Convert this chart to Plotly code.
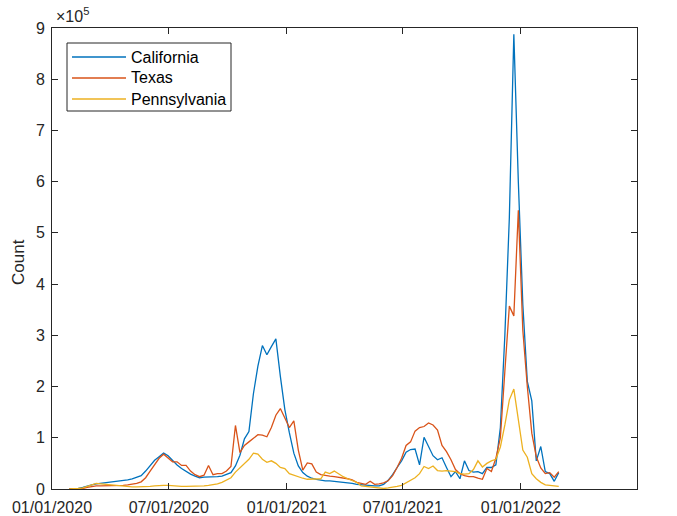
import pandas as pd
import plotly.graph_objects as go

# ---- data (values in units of 1e5) ----
dates = pd.date_range("2020-01-28", periods=110, freq="7D")

california = [
    0.0, 0.0, 0.01, 0.03, 0.06, 0.08, 0.10, 0.11, 0.12, 0.14,
    0.15, 0.16, 0.17, 0.18, 0.20, 0.23, 0.26, 0.35, 0.45, 0.56,
    0.63, 0.70, 0.65, 0.55, 0.47, 0.40, 0.34, 0.29, 0.25, 0.22,
    0.23, 0.23, 0.23, 0.24, 0.25, 0.28, 0.32, 0.45, 0.66, 0.98,
    1.12, 1.86, 2.40, 2.80, 2.62, 2.78, 2.93, 2.20, 1.55, 1.10,
    0.70, 0.45, 0.32, 0.25, 0.21, 0.19, 0.17, 0.16, 0.16, 0.15,
    0.15, 0.14, 0.12, 0.11, 0.09, 0.08, 0.08, 0.07, 0.06, 0.06,
    0.09, 0.17, 0.28, 0.42, 0.55, 0.72, 0.77, 0.78, 0.47, 1.01,
    0.83, 0.65, 0.57, 0.61, 0.42, 0.24, 0.34, 0.20, 0.55, 0.36,
    0.33, 0.34, 0.30, 0.42, 0.42, 0.47, 1.20, 3.00, 5.30, 8.88,
    6.00, 3.60, 2.10, 1.72, 0.55, 0.83, 0.34, 0.30, 0.15, 0.32,
]

texas = [
    0.0, 0.0, 0.0, 0.01, 0.03, 0.05, 0.06, 0.06, 0.06, 0.07,
    0.07, 0.07, 0.07, 0.08, 0.09, 0.11, 0.14, 0.22, 0.35, 0.48,
    0.60, 0.68, 0.60, 0.53, 0.53, 0.46, 0.46, 0.35, 0.28, 0.24,
    0.27, 0.46, 0.28, 0.30, 0.30, 0.35, 0.44, 1.24, 0.71, 0.85,
    0.92, 0.99, 1.06, 1.05, 1.02, 1.20, 1.44, 1.57, 1.38, 1.20,
    1.33, 0.76, 0.37, 0.51, 0.49, 0.33, 0.28, 0.26, 0.25, 0.24,
    0.23, 0.22, 0.20, 0.18, 0.13, 0.11, 0.09, 0.15, 0.09, 0.10,
    0.12, 0.16, 0.26, 0.42, 0.60, 0.85, 0.92, 1.13, 1.20, 1.22,
    1.29, 1.25, 1.15, 0.85, 0.73, 0.57, 0.38, 0.30, 0.26, 0.24,
    0.24, 0.21, 0.19, 0.40, 0.34, 0.60, 1.00, 2.30, 3.57, 3.38,
    5.44, 3.10, 2.00, 1.09, 0.63, 0.41, 0.30, 0.32, 0.23, 0.34,
]

pennsylvania = [
    0.0, 0.0, 0.01, 0.02, 0.05, 0.08, 0.11, 0.10, 0.09, 0.09,
    0.08, 0.07, 0.06, 0.05, 0.04, 0.04, 0.04, 0.05, 0.05, 0.06,
    0.07, 0.07, 0.07, 0.06, 0.06, 0.05, 0.05, 0.05, 0.06, 0.06,
    0.06, 0.07, 0.08, 0.10, 0.13, 0.17, 0.22, 0.33, 0.42, 0.50,
    0.58, 0.70, 0.68, 0.58, 0.52, 0.55, 0.50, 0.42, 0.40, 0.30,
    0.27, 0.23, 0.21, 0.19, 0.19, 0.19, 0.20, 0.33, 0.30, 0.35,
    0.29, 0.24, 0.20, 0.17, 0.13, 0.06, 0.05, 0.03, 0.02, 0.01,
    0.01, 0.02, 0.03, 0.05, 0.07, 0.12, 0.16, 0.22, 0.30, 0.44,
    0.40, 0.45, 0.36, 0.35, 0.36, 0.35, 0.34, 0.30, 0.29, 0.30,
    0.38, 0.55, 0.43, 0.50, 0.55, 0.58, 0.82, 1.25, 1.74, 1.95,
    1.40, 0.76, 0.62, 0.30, 0.20, 0.13, 0.08, 0.07, 0.06, 0.05,
]

series_names = ["California", "Texas", "Pennsylvania"]
series_colors = ["#0072BD", "#D95319", "#EDB120"]

xtick_vals = ["2020-01-01", "2020-07-01", "2021-01-01", "2021-07-01", "2022-01-01", "2022-07-01"]
xtick_text = ["01/01/2020", "07/01/2020", "01/01/2021", "07/01/2021", "01/01/2022", "07/01/2022"]
ytick_vals = [i * 1e5 for i in range(10)]
ytick_text = [str(i) for i in range(10)]

# ---- figure ----
W, H = 677, 516
L, R, T, B = 52, 40, 28, 27
pw, ph = W - L - R, H - T - B

def px(x):
    return (x - L) / pw

def py(y):
    return (H - B - y) / ph

FONT = "Liberation Sans, Arial, sans-serif"
fig = go.Figure()
all_vals = [california, texas, pennsylvania]
for name, vals, col in zip(series_names, all_vals, series_colors):
    fig.add_trace(go.Scatter(
        x=dates, y=[v * 1e5 for v in vals], mode="lines", name=name,
        line=dict(color=col, width=1.3), showlegend=False,
    ))

axis_common = dict(
    showline=True, linecolor="#262626", linewidth=1, mirror="allticks",
    ticks="inside", ticklen=6, tickwidth=1, tickcolor="#262626",
    showgrid=False, zeroline=False, automargin=False,
    tickfont=dict(family=FONT, size=16, color="#262626"),
)

fig.update_layout(
    width=W, height=H,
    margin=dict(l=L, r=R, t=T, b=B, autoexpand=False),
    paper_bgcolor="white", plot_bgcolor="white",
    xaxis=dict(type="date", range=["2020-01-01", "2022-07-01"],
               tickmode="array", tickvals=xtick_vals, ticktext=xtick_text,
               ticklabelstandoff=4, **axis_common),
    yaxis=dict(range=[0, 9e5], tickmode="array", tickvals=ytick_vals,
               ticktext=ytick_text, ticklabelstandoff=3, **axis_common),
    showlegend=False,
)

# y-axis label and exponent
fig.add_annotation(text="Count", xref="paper", yref="paper", x=px(18), y=py(262),
                   xanchor="center", yanchor="middle",
                   showarrow=False, textangle=-90,
                   font=dict(family=FONT, size=17, color="#262626"))
fig.add_annotation(text="×10<sup>5</sup>", xref="paper", yref="paper",
                   x=px(54), y=py(27), xanchor="left", yanchor="bottom",
                   showarrow=False, font=dict(family=FONT, size=16, color="#262626"))

# legend (drawn in MATLAB style)
fig.add_shape(type="rect", xref="paper", yref="paper",
              x0=px(67), x1=px(231), y0=py(43), y1=py(111),
              line=dict(color="#262626", width=1), fillcolor="white", layer="above")
rows = [57, 78, 99]
for name, col, ry in zip(series_names, series_colors, rows):
    fig.add_shape(type="line", xref="paper", yref="paper",
                  x0=px(72), x1=px(126), y0=py(ry), y1=py(ry),
                  line=dict(color=col, width=1.3), layer="above")
    fig.add_annotation(text=name, xref="paper", yref="paper", x=px(129), y=py(ry),
                       xanchor="left", yanchor="middle", showarrow=False,
                       font=dict(family=FONT, size=16, color="black"))

fig.write_html("out.html")
